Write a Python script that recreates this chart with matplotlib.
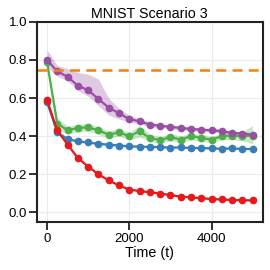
import numpy as np
import matplotlib
matplotlib.use("Agg")
import matplotlib.pyplot as plt

plt.rcParams['font.family'] = ['Liberation Sans', 'DejaVu Sans']

# time steps
steps = [0, 250, 500, 750, 1000, 1250, 1500, 1750, 2000, 2250, 2500,
         2750, 3000, 3250, 3500, 3750, 4000, 4250, 4500, 4750, 5000]

red_mean = [0.59, 0.43, 0.356, 0.286, 0.24, 0.2, 0.168, 0.142, 0.12, 0.112, 0.106,
            0.099, 0.091, 0.083, 0.079, 0.075, 0.07, 0.068, 0.065, 0.064, 0.063]
red_lo = [0.58, 0.422, 0.35, 0.281, 0.235, 0.196, 0.164, 0.138, 0.117, 0.109, 0.103,
          0.096, 0.088, 0.08, 0.076, 0.072, 0.067, 0.065, 0.062, 0.061, 0.06]
red_hi = [0.60, 0.438, 0.362, 0.291, 0.245, 0.204, 0.172, 0.146, 0.123, 0.115, 0.109,
          0.102, 0.094, 0.086, 0.082, 0.078, 0.073, 0.071, 0.068, 0.067, 0.066]

blue_mean = [0.58, 0.42, 0.385, 0.373, 0.367, 0.36, 0.356, 0.351, 0.347, 0.345, 0.344,
             0.343, 0.34, 0.341, 0.338, 0.338, 0.336, 0.334, 0.336, 0.333, 0.333]
blue_lo = [0.57, 0.412, 0.38, 0.368, 0.362, 0.356, 0.352, 0.347, 0.343, 0.341, 0.34,
           0.339, 0.336, 0.337, 0.334, 0.334, 0.332, 0.33, 0.332, 0.329, 0.329]
blue_hi = [0.59, 0.428, 0.39, 0.378, 0.372, 0.364, 0.36, 0.355, 0.351, 0.349, 0.348,
           0.347, 0.344, 0.345, 0.342, 0.342, 0.34, 0.338, 0.34, 0.337, 0.337]

green_mean = [0.79, 0.465, 0.432, 0.443, 0.447, 0.43, 0.408, 0.42, 0.40, 0.426, 0.391,
              0.379, 0.396, 0.382, 0.40, 0.391, 0.382, 0.40, 0.403, 0.40, 0.403]
green_lo = [0.78, 0.435, 0.412, 0.423, 0.427, 0.41, 0.39, 0.40, 0.38, 0.396, 0.372,
            0.362, 0.378, 0.364, 0.382, 0.372, 0.366, 0.382, 0.383, 0.375, 0.36]
green_hi = [0.80, 0.495, 0.452, 0.463, 0.467, 0.45, 0.428, 0.44, 0.42, 0.456, 0.41,
            0.396, 0.414, 0.40, 0.418, 0.41, 0.398, 0.418, 0.42, 0.425, 0.455]

purple_mean = [0.80, 0.74, 0.712, 0.665, 0.642, 0.595, 0.55, 0.52, 0.49, 0.478, 0.461,
               0.455, 0.449, 0.443, 0.438, 0.434, 0.431, 0.426, 0.417, 0.414, 0.408]
purple_lo = [0.765, 0.715, 0.69, 0.64, 0.61, 0.56, 0.51, 0.49, 0.475, 0.465, 0.448,
             0.445, 0.439, 0.433, 0.428, 0.424, 0.421, 0.416, 0.407, 0.404, 0.398]
purple_hi = [0.853, 0.771, 0.755, 0.735, 0.725, 0.70, 0.60, 0.545, 0.51, 0.492, 0.474,
             0.465, 0.459, 0.453, 0.448, 0.444, 0.441, 0.436, 0.427, 0.424, 0.418]

baseline = 0.745

series = [
    (blue_mean, blue_lo, blue_hi, '#377eb8'),
    (green_mean, green_lo, green_hi, '#4daf4a'),
    (purple_mean, purple_lo, purple_hi, '#984ea3'),
    (red_mean, red_lo, red_hi, '#e41a1c'),
]

fig, ax = plt.subplots(figsize=(2.7, 2.7), dpi=100)
fig.subplots_adjust(left=0.136, right=0.974, bottom=0.178, top=0.919)

for mean, lo, hi, col in series:
    ax.fill_between(steps, lo, hi, color=col, alpha=0.3, lw=0)
    ax.plot(steps, mean, '-o', color=col, lw=1.6, markersize=4.5)

ax.axhline(baseline, color='#ff7f00', lw=1.8, ls=(0, (4, 2.5)))

ax.set_xlim(-250, 5250)
ax.set_ylim(-0.05, 1.0)
ax.set_xticks([0, 2000, 4000])
ax.set_yticks([0.0, 0.2, 0.4, 0.6, 0.8, 1.0])
ax.grid(True, color='#ebebeb', lw=0.8)
ax.set_axisbelow(True)
for sp in ax.spines.values():
    sp.set_linewidth(1.5)
    sp.set_color('#222222')
ax.tick_params(length=5.5, width=1.3, labelsize=9.5, color='#222222')
ax.tick_params(axis='y', pad=1.5)
ax.tick_params(axis='x', pad=2.5)
ax.set_title('MNIST Scenario 3', fontsize=10.3, pad=3)
ax.set_xlabel('Time (t)', fontsize=10.3, labelpad=1)

fig.savefig('out.png', dpi=100)
